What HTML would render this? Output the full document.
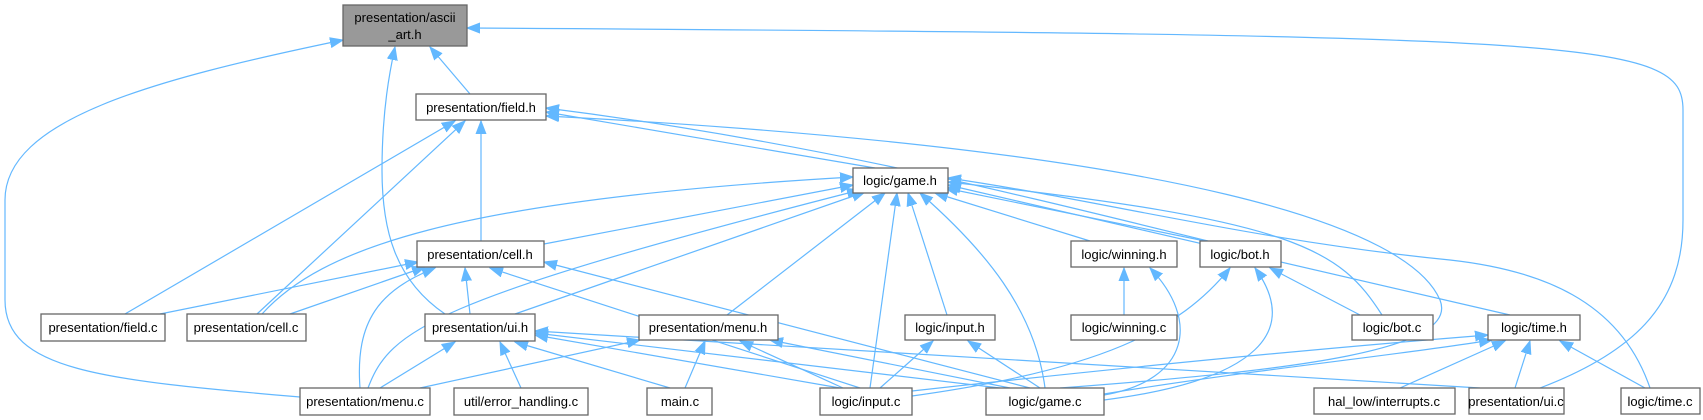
<!DOCTYPE html>
<html><head><meta charset="utf-8"><style>
html,body{margin:0;padding:0;background:#fff;}
svg{display:block;}
text{font-family:"Liberation Sans",Helvetica,sans-serif;font-size:13px;fill:#000;}
.b{fill:#fff;stroke:#666;stroke-width:1.3;}
.e{fill:none;stroke:#63b8ff;stroke-width:1.2;marker-end:url(#a);}
</style></head><body>
<svg width="1703" height="420" viewBox="0 0 1703 420">
<defs><marker id="a" markerUnits="userSpaceOnUse" markerWidth="14" markerHeight="12" refX="13" refY="6" orient="auto"><path d="M0,1 L13,6 L0,11 Z" fill="#63b8ff" stroke="#63b8ff"/></marker></defs>
<g>
<path class="e" d="M470,94 L430,47"/>
<path class="e" d="M300,397 C100,380 5,370 5,300 L5,200 C5,120 150,80 343,40"/>
<path class="e" d="M445,314 C395,280 382,230 382,170 C382,110 390,70 395,47"/>
<path class="e" d="M1540,388 C1640,350 1683,300 1683,220 L1683,110 C1683,40 1600,35 467,28"/>
<path class="e" d="M125,314 L455,121"/>
<path class="e" d="M257,314 L465,121"/>
<path class="e" d="M481,241 L481,121"/>
<path class="e" d="M875,168 L546,112"/>
<path class="e" d="M1208,241 C1000,190 800,140 546,108"/>
<path class="e" d="M1060,388 C1300,370 1460,350 1440,300 C1410,230 1200,150 546,116"/>
<path class="e" d="M262,314 C320,250 450,200 853,177"/>
<path class="e" d="M544,244 L853,185"/>
<path class="e" d="M368,388 C390,330 430,300 860,190"/>
<path class="e" d="M515,314 L865,192"/>
<path class="e" d="M727,315 L885,193"/>
<path class="e" d="M870,388 L897,193"/>
<path class="e" d="M947,315 L908,193"/>
<path class="e" d="M1045,388 C1035,310 985,250 920,193"/>
<path class="e" d="M1090,241 L935,193"/>
<path class="e" d="M1205,241 L945,188"/>
<path class="e" d="M1382,315 C1340,250 1300,220 948,182"/>
<path class="e" d="M1510,315 L948,185"/>
<path class="e" d="M1650,388 C1620,300 1540,270 1450,260 C1250,240 1100,200 948,178"/>
<path class="e" d="M160,314 L418,262"/>
<path class="e" d="M290,314 L425,267"/>
<path class="e" d="M360,388 C355,320 380,290 435,268"/>
<path class="e" d="M470,314 L465,268"/>
<path class="e" d="M860,388 L490,268"/>
<path class="e" d="M1030,388 L544,262"/>
<path class="e" d="M380,388 L455,342"/>
<path class="e" d="M521,388 L500,342"/>
<path class="e" d="M670,388 L515,342"/>
<path class="e" d="M840,388 L535,335"/>
<path class="e" d="M1000,388 L535,333"/>
<path class="e" d="M1480,388 L535,331"/>
<path class="e" d="M420,388 L640,340"/>
<path class="e" d="M685,388 L705,341"/>
<path class="e" d="M843,388 L740,341"/>
<path class="e" d="M1010,388 L770,340"/>
<path class="e" d="M880,388 L933,341"/>
<path class="e" d="M1040,388 L968,341"/>
<path class="e" d="M1124,315 L1124,268"/>
<path class="e" d="M1104,395 C1190,380 1200,320 1150,268"/>
<path class="e" d="M912,396 C1100,370 1180,330 1230,268"/>
<path class="e" d="M1104,400 C1260,380 1300,330 1255,268"/>
<path class="e" d="M1360,315 L1270,268"/>
<path class="e" d="M912,391 C1100,370 1300,350 1488,335"/>
<path class="e" d="M1104,394 C1250,370 1400,355 1492,340"/>
<path class="e" d="M1400,388 L1505,341"/>
<path class="e" d="M1515,388 L1530,341"/>
<path class="e" d="M1645,388 L1560,341"/>
</g>
<g>
<rect x="343" y="5" width="124" height="41" fill="#999" stroke="#666" stroke-width="1.3"/>
<text x="405" y="22" text-anchor="middle">presentation/ascii</text>
<text x="405" y="39" text-anchor="middle">_art.h</text>
<rect class="b" x="416" y="94" width="130" height="26"/><text x="481" y="112" text-anchor="middle">presentation/field.h</text>
<rect class="b" x="417" y="241" width="127" height="26"/><text x="480" y="259" text-anchor="middle">presentation/cell.h</text>
<rect class="b" x="41" y="314" width="124" height="27"/><text x="103" y="332" text-anchor="middle">presentation/field.c</text>
<rect class="b" x="187" y="314" width="119" height="27"/><text x="246" y="332" text-anchor="middle">presentation/cell.c</text>
<rect class="b" x="425" y="314" width="110" height="27"/><text x="480" y="332" text-anchor="middle">presentation/ui.h</text>
<rect class="b" x="300" y="388" width="130" height="27"/><text x="365" y="406" text-anchor="middle">presentation/menu.c</text>
<rect class="b" x="454" y="388" width="134" height="27"/><text x="521" y="406" text-anchor="middle">util/error_handling.c</text>
<rect class="b" x="853" y="168" width="95" height="25"/><text x="900" y="185" text-anchor="middle">logic/game.h</text>
<rect class="b" x="639" y="315" width="139" height="25"/><text x="708" y="332" text-anchor="middle">presentation/menu.h</text>
<rect class="b" x="905" y="315" width="90" height="25"/><text x="950" y="332" text-anchor="middle">logic/input.h</text>
<rect class="b" x="1071" y="241" width="106" height="26"/><text x="1124" y="259" text-anchor="middle">logic/winning.h</text>
<rect class="b" x="1071" y="315" width="106" height="25"/><text x="1124" y="332" text-anchor="middle">logic/winning.c</text>
<rect class="b" x="647" y="388" width="65" height="27"/><text x="680" y="406" text-anchor="middle">main.c</text>
<rect class="b" x="820" y="388" width="92" height="27"/><text x="866" y="406" text-anchor="middle">logic/input.c</text>
<rect class="b" x="986" y="388" width="118" height="27"/><text x="1045" y="406" text-anchor="middle">logic/game.c</text>
<rect class="b" x="1200" y="241" width="81" height="26"/><text x="1240" y="259" text-anchor="middle">logic/bot.h</text>
<rect class="b" x="1352" y="315" width="81" height="25"/><text x="1392" y="332" text-anchor="middle">logic/bot.c</text>
<rect class="b" x="1488" y="315" width="92" height="25"/><text x="1534" y="332" text-anchor="middle">logic/time.h</text>
<rect class="b" x="1314" y="388" width="141" height="26"/><text x="1384" y="406" text-anchor="middle">hal_low/interrupts.c</text>
<rect class="b" x="1469" y="388" width="95" height="26"/><text x="1516" y="406" text-anchor="middle">presentation/ui.c</text>
<rect class="b" x="1621" y="388" width="79" height="26"/><text x="1660" y="406" text-anchor="middle">logic/time.c</text>
</g>
</svg>
</body></html>
